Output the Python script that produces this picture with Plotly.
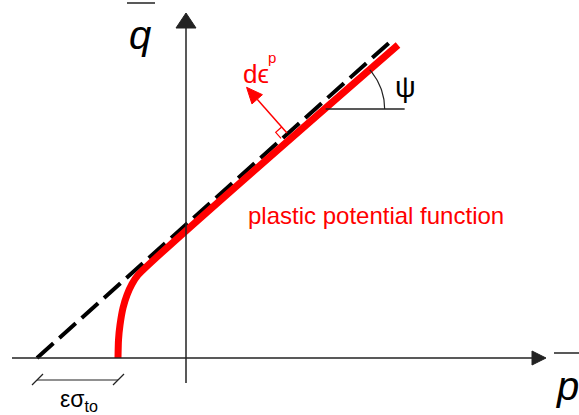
import numpy as np
import plotly.graph_objects as go

# ---- data (p, q coordinates, origin at the axis crossing) ----
dashed_p = [-149, 204]
dashed_q = [0, 316]

red_p = [-68, -67.5, -66, -63, -59, -54, -48, 212]
red_q = [0, 18, 33, 50, 63, 74, 83, 313]

p_axis = [-174, 346]
q_axis = [-25, 330]

slope = (red_q[-1] - red_q[-2]) / (red_p[-1] - red_p[-2])
psi_q = 249          # height where angle psi is drawn
psi_len = 79
psi_r = 59

flow_base = (101, 225)
flow_len = 61

dim_p = [-149, -68]   # eps*sigma_to span
dim_q = -22

fig = go.Figure()

# dashed asymptote
fig.add_trace(go.Scatter(x=dashed_p, y=dashed_q, mode="lines",
                         line=dict(color="black", width=4, dash="22px,8px")))
# plastic potential (red)
fig.add_trace(go.Scatter(x=red_p, y=red_q, mode="lines",
                         line=dict(color="#ff0000", width=7, shape="spline", smoothing=0.6)))

axc = "#222222"
# axes
fig.add_trace(go.Scatter(x=[0, 0], y=q_axis, mode="lines", line=dict(color=axc, width=1.5)))
fig.add_trace(go.Scatter(x=p_axis, y=[0, 0], mode="lines", line=dict(color=axc, width=1.5)))
# arrow heads
fig.add_trace(go.Scatter(x=[0, -10, 10, 0], y=[q_axis[1] + 15, q_axis[1], q_axis[1], q_axis[1] + 15],
                         mode="lines", fill="toself", fillcolor=axc, line=dict(color=axc, width=1)))
fig.add_trace(go.Scatter(x=[p_axis[1] + 14, p_axis[1], p_axis[1], p_axis[1] + 14], y=[0, 7, -7, 0],
                         mode="lines", fill="toself", fillcolor=axc, line=dict(color=axc, width=1)))

# angle psi
p0 = red_p[-2] + (psi_q - red_q[-2]) / slope
ang = np.arctan(slope)
fig.add_trace(go.Scatter(x=[p0, p0 + psi_len], y=[psi_q, psi_q], mode="lines",
                         line=dict(color=axc, width=1.5)))
t = np.linspace(0, ang, 30)
fig.add_trace(go.Scatter(x=p0 + psi_r * np.cos(t), y=psi_q + psi_r * np.sin(t), mode="lines",
                         line=dict(color=axc, width=1.2)))

# flow vector d eps^p (normal to the line)
L = np.array([np.cos(ang), np.sin(ang)])
A = np.array([-np.sin(ang), np.cos(ang)])
B = np.array(flow_base, dtype=float)
tip = B + flow_len * A
hb = tip - 16 * A
fig.add_trace(go.Scatter(x=[B[0], hb[0]], y=[B[1], hb[1]], mode="lines",
                         line=dict(color="#ff0000", width=1.5)))
head = np.array([tip, hb + 7 * L, hb - 7 * L, tip])
fig.add_trace(go.Scatter(x=head[:, 0], y=head[:, 1], mode="lines", fill="toself",
                         fillcolor="#ff0000", line=dict(color="#ff0000", width=1)))
s = 8
sq = np.array([B - s * L, B - s * L + s * A, B + s * A])
fig.add_trace(go.Scatter(x=sq[:, 0], y=sq[:, 1], mode="lines", line=dict(color="#ff0000", width=1.2)))

# dimension line eps sigma_to
fig.add_trace(go.Scatter(x=dim_p, y=[dim_q, dim_q], mode="lines", line=dict(color=axc, width=1.2)))
for pp in dim_p:
    fig.add_trace(go.Scatter(x=[pp - 5, pp + 6], y=[dim_q - 5, dim_q + 6], mode="lines",
                             line=dict(color=axc, width=1.2)))

# overbars for q and p
fig.add_trace(go.Scatter(x=[-59, -31], y=[355, 355], mode="lines", line=dict(color=axc, width=1.5)))
fig.add_trace(go.Scatter(x=[368, 393], y=[5, 5], mode="lines", line=dict(color=axc, width=1.5)))

font = "Liberation Sans, Arial, sans-serif"
ann = [
    dict(x=-46, y=323, text="<i>q</i>", font=dict(size=40, color="black")),
    dict(x=381, y=-28, text="<i>p</i>", font=dict(size=40, color="black")),
    dict(x=219, y=271, text="ψ", font=dict(size=29, color="black")),
    dict(x=70, y=284, text="dϵ", font=dict(size=26, color="#ff0000")),
    dict(x=86, y=301, text="p", font=dict(size=15, color="#ff0000")),
    dict(x=190, y=143, text="plastic potential function", font=dict(size=24, color="#ff0000")),
    dict(x=-107, y=-42, text="εσ<sub>to</sub>", font=dict(size=23, color="black")),
]
for a in ann:
    a.update(xref="x", yref="y", showarrow=False, xanchor="center", yanchor="middle")
    a["font"]["family"] = font
fig.update_layout(annotations=ann)

fig.update_layout(
    width=579, height=415, margin=dict(l=0, r=0, t=0, b=0),
    paper_bgcolor="white", plot_bgcolor="white", showlegend=False,
    xaxis=dict(range=[-186, 393], visible=False, fixedrange=True),
    yaxis=dict(range=[-57, 358], visible=False, fixedrange=True),
)
fig.write_html("out.html", config={"displayModeBar": False},
               post_script="document.body.style.margin='0';document.body.style.overflow='hidden';")
